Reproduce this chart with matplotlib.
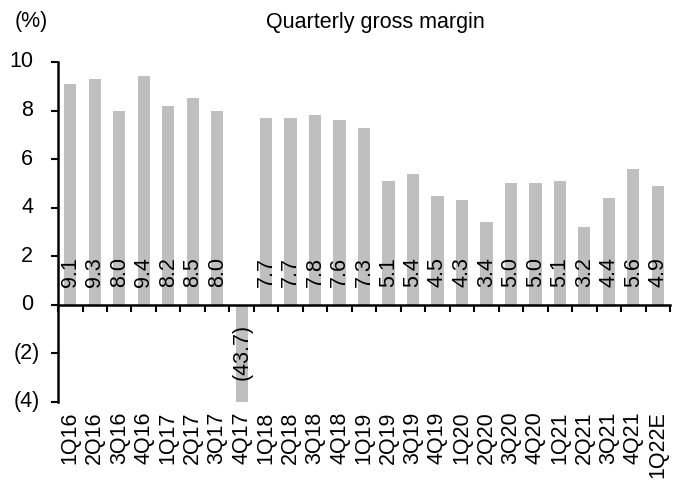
import matplotlib; matplotlib.use("Agg")
import matplotlib.pyplot as plt
from matplotlib.ticker import FixedLocator

plt.rcParams["font.family"] = ["Liberation Sans", "DejaVu Sans"]

quarters = ["1Q16", "2Q16", "3Q16", "4Q16", "1Q17", "2Q17", "3Q17", "4Q17",
            "1Q18", "2Q18", "3Q18", "4Q18", "1Q19", "2Q19", "3Q19", "4Q19",
            "1Q20", "2Q20", "3Q20", "4Q20", "1Q21", "2Q21", "3Q21", "4Q21",
            "1Q22E"]
margin = [9.1, 9.3, 8.0, 9.4, 8.2, 8.5, 8.0, -43.7, 7.7, 7.7, 7.8, 7.6, 7.3,
          5.1, 5.4, 4.5, 4.3, 3.4, 5.0, 5.0, 5.1, 3.2, 4.4, 5.6, 4.9]
yticks = [-4, -2, 0, 2, 4, 6, 8, 10]

FS = 15.5
fig = plt.figure(figsize=(6.83, 4.8), dpi=100)
ax = fig.add_axes([0.085, 0.1625, 0.896, 0.7085])

x = list(range(len(quarters)))
ax.bar(x, margin, width=0.5, color="#BFBFBF", zorder=2)

ax.set_xlim(-0.5, len(quarters) - 0.5)
ax.set_ylim(-4, 10)
ax.set_yticks(yticks)
ax.tick_params(axis="y", direction="out", length=5, width=1.5, labelleft=False)

# y labels, Excel style: positives leave room for the closing bracket
for v in yticks:
    lab = f"({abs(v)})" if v < 0 else f"{v}"
    dx = -13 if v < 0 else -18
    ax.annotate(lab, (0, v), xycoords=("axes fraction", "data"),
                xytext=(dx, 0), textcoords="offset points",
                ha="right", va="center", fontsize=FS)

for s in ("top", "right"):
    ax.spines[s].set_visible(False)
ax.spines["left"].set_linewidth(1.8)
ax.spines["bottom"].set_position(("data", 0))
ax.spines["bottom"].set_linewidth(1.8)
ax.spines["bottom"].set_zorder(3)
ax.xaxis.set_major_locator(FixedLocator([i - 0.5 for i in range(len(quarters) + 1)]))
ax.tick_params(axis="x", direction="out", length=5, width=1.5, labelbottom=False)

# category labels at the bottom of the plot area
for i, q in enumerate(quarters):
    ax.annotate(q, (i, 0), xycoords=("data", "axes fraction"),
                xytext=(0, -7), textcoords="offset points",
                rotation=90, ha="center", va="top", fontsize=FS)

# value labels, inside base
for i, v in enumerate(margin):
    txt = f"({abs(v):.1f})" if v < 0 else f"{v:.1f}"
    if v >= 0:
        ax.annotate(txt, (i, 0), xytext=(0, 13), textcoords="offset points",
                    rotation=90, ha="center", va="bottom", fontsize=FS, zorder=4)
    else:
        ax.annotate(txt, (i, 0), xytext=(0, -14), textcoords="offset points",
                    rotation=90, ha="center", va="top", fontsize=FS, zorder=4)

fig.text(0.022, 0.955, "(%)", fontsize=FS, ha="left", va="center")
fig.text(0.549, 0.953, "Quarterly gross margin", fontsize=FS, ha="center", va="center")

fig.savefig("out.png", dpi=100)
